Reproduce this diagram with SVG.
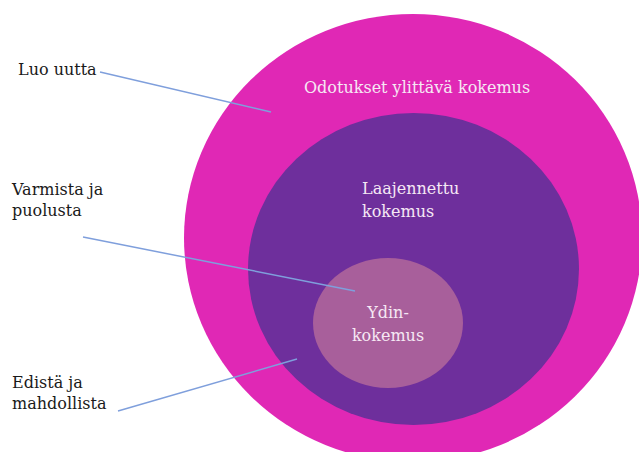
<svg xmlns="http://www.w3.org/2000/svg" width="639" height="452" viewBox="0 0 639 452">
<style>
.lbl{font-family:"DejaVu Serif","Liberation Serif",serif;font-size:16px;fill:#1a1a1a}
.in{font-family:"DejaVu Serif","Liberation Serif",serif;font-size:16px;fill:#f6e8f4}
.conn{stroke:#7f9fdc;stroke-width:1.5;fill:none}
</style>
<rect width="639" height="452" fill="#ffffff"/>
<g id="outer">
<ellipse cx="413" cy="238" rx="229" ry="224" fill="#e028b5"/>
<text class="in" x="304" y="93">Odotukset ylittävä kokemus</text>
</g>
<g id="middle">
<ellipse cx="413.5" cy="269" rx="165.5" ry="156" fill="#6e2f9c"/>
<text class="in" x="362" y="194">Laajennettu</text>
<text class="in" x="362" y="217">kokemus</text>
</g>
<g id="core">
<ellipse cx="388" cy="323" rx="75" ry="65" fill="#a85f9b"/>
<text class="in" x="388" y="318" text-anchor="middle">Ydin-</text>
<text class="in" x="388" y="341" text-anchor="middle">kokemus</text>
</g>
<g id="label-luo">
<text class="lbl" x="18" y="75">Luo uutta</text>
</g>
<g id="label-varmista">
<text class="lbl" x="12" y="195">Varmista ja</text>
<text class="lbl" x="12" y="216">puolusta</text>
</g>
<g id="label-edista">
<text class="lbl" x="12" y="388">Edistä ja</text>
<text class="lbl" x="12" y="409">mahdollista</text>
</g>
<g id="connectors">
<line class="conn" x1="100" y1="72" x2="271" y2="112"/>
<line class="conn" x1="83" y1="237" x2="355" y2="291"/>
<line class="conn" x1="118" y1="411" x2="297" y2="359"/>
</g>
</svg>
